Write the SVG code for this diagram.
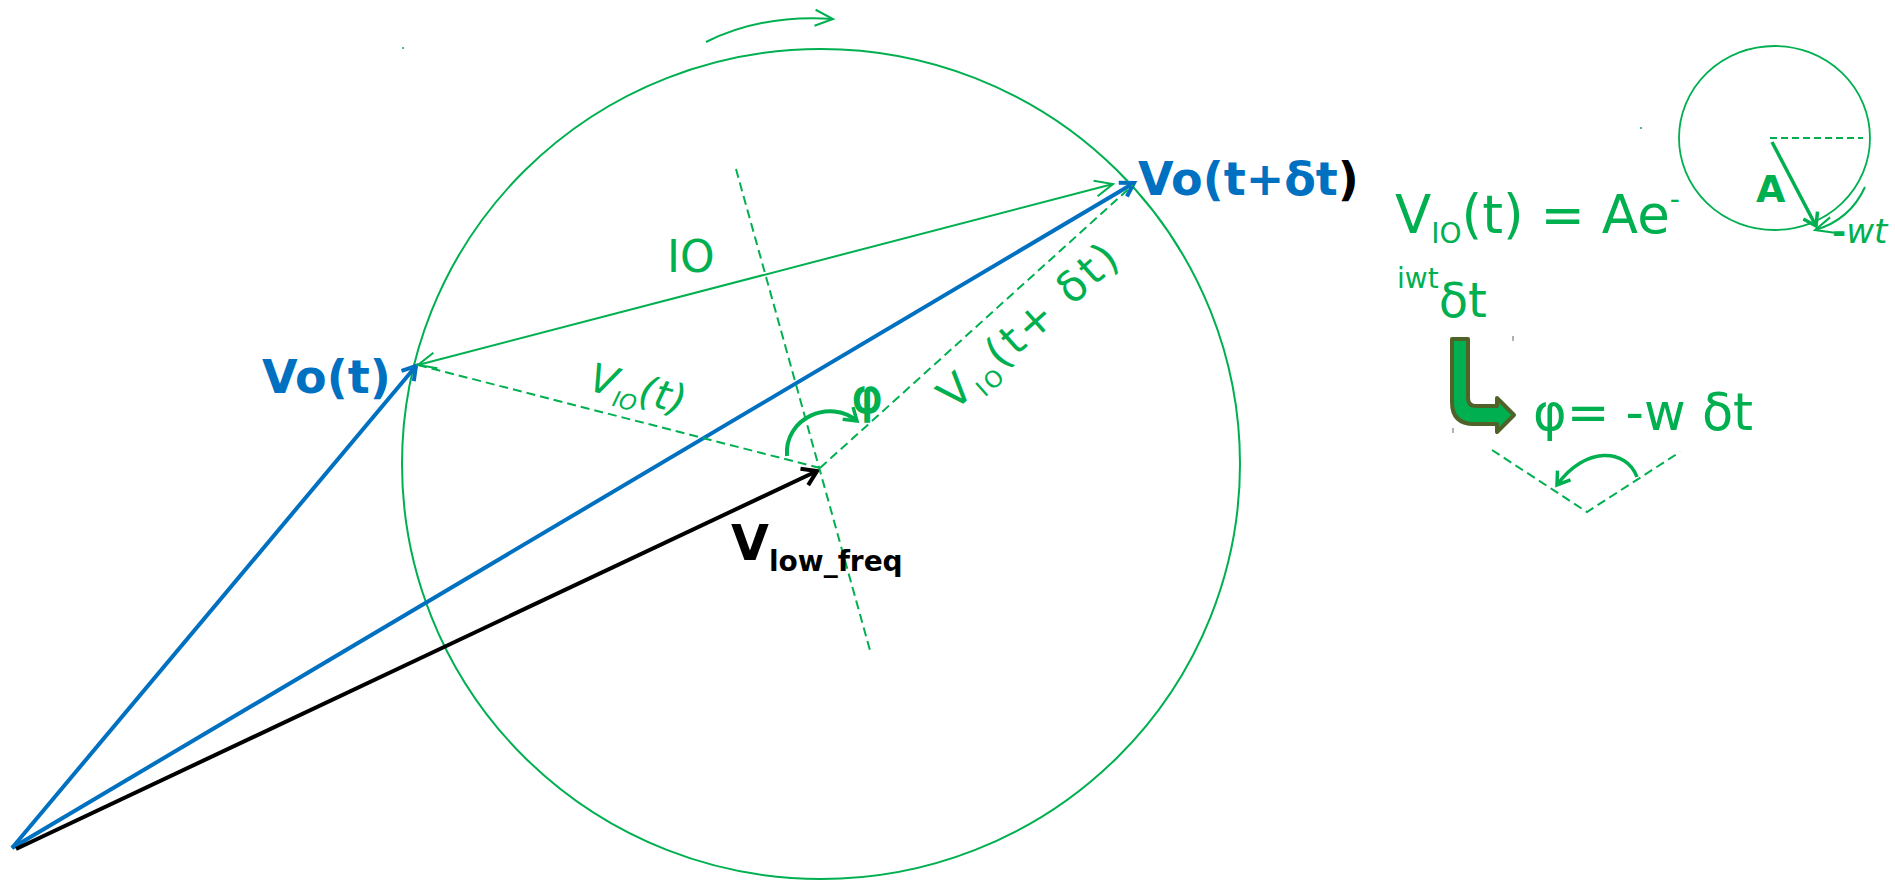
<svg xmlns="http://www.w3.org/2000/svg" width="1895" height="881" viewBox="0 0 1895 881">
<style>
text{font-family:"DejaVu Sans","Liberation Sans",sans-serif}
.g{fill:#00B050}
.b{fill:#0070C0}
.k{fill:#000}
.bold{font-weight:bold}
.it{font-style:italic}
.gl{stroke:#00B050;fill:none}
.dash{stroke-dasharray:9 5}
</style>
<defs>
<marker id="ab" markerUnits="userSpaceOnUse" viewBox="-16 -10 20 20" markerWidth="20" markerHeight="20" refX="0" refY="0" orient="auto" overflow="visible">
<path d="M-13,-8 L0,0 L-13,8" fill="none" stroke="#0070C0" stroke-width="4"/>
</marker>
<marker id="ak" markerUnits="userSpaceOnUse" viewBox="-16 -10 20 20" markerWidth="20" markerHeight="20" refX="0" refY="0" orient="auto" overflow="visible">
<path d="M-14,-9 L0,0 L-14,9" fill="none" stroke="#000" stroke-width="4"/>
</marker>
<marker id="ag" markerUnits="userSpaceOnUse" viewBox="-20 -10 24 20" markerWidth="24" markerHeight="20" refX="0" refY="0" orient="auto-start-reverse" overflow="visible">
<path d="M-18,-8 L0,0 L-18,8" fill="none" stroke="#00B050" stroke-width="2"/>
</marker>
<marker id="agt" markerUnits="userSpaceOnUse" viewBox="-16 -10 20 20" markerWidth="20" markerHeight="20" refX="0" refY="0" orient="auto" overflow="visible">
<path d="M-12,-8 L0,0 L-12,8" fill="none" stroke="#00B050" stroke-width="3.5"/>
</marker>
</defs>

<g id="big-circle">
<ellipse cx="821" cy="464" rx="419" ry="415" class="gl" stroke-width="2"/>
</g>

<g id="connectors">
<line x1="12" y1="848" x2="416" y2="366" stroke="#0070C0" stroke-width="4" marker-end="url(#ab)"/>
<line x1="12" y1="848" x2="1134" y2="183" stroke="#0070C0" stroke-width="4" marker-end="url(#ab)"/>
<line x1="16" y1="849" x2="817" y2="471" stroke="#000" stroke-width="4" marker-end="url(#ak)"/>
<line x1="418" y1="365" x2="1113" y2="184" class="gl" stroke-width="2" marker-start="url(#ag)" marker-end="url(#ag)"/>
<line x1="418" y1="365" x2="820" y2="468" class="gl dash" stroke-width="2"/>
<line x1="820" y1="468" x2="1133" y2="185" class="gl dash" stroke-width="2"/>
<line x1="736" y1="169" x2="871" y2="654" class="gl dash" stroke-width="2"/>
<path d="M787,456 C784,418 830,398 857,421" class="gl" stroke-width="4" marker-end="url(#agt)"/>
<path d="M706,42 Q762,14 833,19" class="gl" stroke-width="2" marker-end="url(#ag)"/>
</g>

<g id="label-vo-t">
<text x="262" y="393" font-size="46" class="b bold">Vo(t)</text>
</g>
<g id="label-vo-tdt">
<text x="1138" y="195" font-size="46" class="b bold">Vo(t+δt<tspan class="k">)</tspan></text>
</g>
<g id="label-io">
<text x="667" y="272" font-size="44" class="g">IO</text>
</g>
<g id="label-vio-t">
<text transform="translate(587,390) rotate(14.4)" font-size="40" class="g it">V<tspan font-size="22" dy="9">IO</tspan><tspan dy="-9">(t)</tspan></text>
</g>
<g id="label-vio-tdt">
<text transform="translate(954,412) rotate(-41.8)" font-size="43" class="g" letter-spacing="3">V<tspan font-size="23" dy="10">IO</tspan><tspan dy="-10">(t+ δt)</tspan></text>
</g>
<g id="label-phi">
<text x="852" y="412" font-size="46" class="g" stroke="#00B050" stroke-width="1.6">φ</text>
</g>
<g id="label-vlow">
<text x="731" y="560" font-size="49" class="k bold">V<tspan font-size="28" dy="11">low_freq</tspan></text>
</g>

<g id="formula">
<text x="1395" y="233" font-size="53" class="g">V<tspan font-size="28" dy="10">IO</tspan><tspan dy="-10">(t) = Ae</tspan><tspan font-size="28" dy="-24">-</tspan></text>
<text x="1397" y="288" font-size="28" class="g">iwt<tspan font-size="48" dy="29">δt</tspan></text>
</g>

<g id="small-circle">
<ellipse cx="1774.5" cy="138" rx="95.5" ry="92" class="gl" stroke-width="1.8"/>
<line x1="1770" y1="138" x2="1863" y2="138" class="gl" stroke-width="2" stroke-dasharray="7 4"/>
<line x1="1772" y1="142" x2="1816" y2="226" class="gl" stroke-width="3.5" marker-end="url(#agt)"/>
<path d="M1865,187 Q1850,220 1815,230" class="gl" stroke-width="2" marker-end="url(#ag)"/>
<text x="1756" y="202" font-size="38" class="g bold">A</text>
<text x="1832" y="243" font-size="34" class="g"><tspan class="bold">-</tspan><tspan class="it">wt</tspan></text>
</g>

<g id="bent-arrow">
<path d="M1452,339 L1468,339 L1468,398 Q1468,406 1476,406 L1497,406 L1497,398 L1514,415 L1497,432 L1497,424 L1474,424 Q1452,424 1452,402 Z" fill="#00B050" stroke="#4F6228" stroke-width="4" stroke-linejoin="round"/>
</g>

<g id="phi-formula">
<text x="1533" y="430" font-size="51" class="g">φ= -w δt</text>
</g>

<g id="angle-sketch">
<polyline points="1492,450 1587,512 1680,452" class="gl dash" stroke-width="2"/>
<path d="M1637,477 C1626,448 1585,446 1557,485" class="gl" stroke-width="3.5" marker-end="url(#agt)"/>
</g>

<g id="specks" stroke-width="1.5">
<line x1="403" y1="47" x2="403" y2="49" stroke="#00B050"/>
<line x1="1641" y1="127" x2="1641" y2="129" stroke="#00B050"/>
<line x1="1513" y1="336" x2="1513" y2="341" stroke="#999"/>
<line x1="1453" y1="428" x2="1453" y2="433" stroke="#999"/>
</g>
</svg>
